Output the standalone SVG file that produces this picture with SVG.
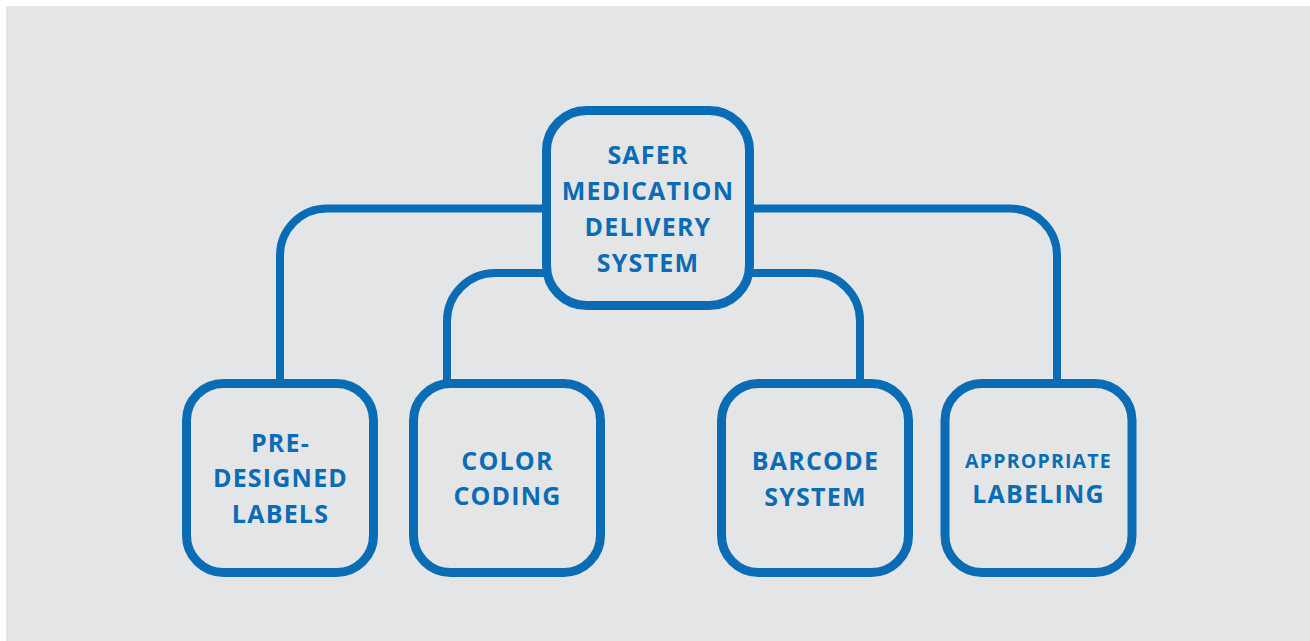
<svg xmlns="http://www.w3.org/2000/svg" width="1310" height="641" viewBox="0 0 1310 641">
  <style>
    .box { fill: none; stroke: #0a6cb4; stroke-width: 9; }
    .link { fill: none; stroke: #0a6cb4; stroke-width: 8; }
    .label { font-family: "Open Sans", "Liberation Sans", sans-serif; font-weight: 700; fill: #0a6cb4; text-anchor: middle; font-size: 25px; letter-spacing: 1.2px; }
    .small { font-size: 19.5px; }
  </style>
  <rect x="0" y="0" width="1310" height="641" fill="#ffffff"/>
  <rect x="6" y="6" width="1304" height="635" fill="#e4e5e7"/>

  <!-- connectors from the central system to each component -->
  <g id="connectors">
    <path class="link" d="M546.5,208.5 H327 A47,47 0 0 0 280,255.5 V383"/>
    <path class="link" d="M546.5,273 H495 A48,48 0 0 0 447,321 V380"/>
    <path class="link" d="M749.5,273 H812 A48,48 0 0 1 860,321 V380"/>
    <path class="link" d="M749.5,208.5 H1010 A47,47 0 0 1 1057,255.5 V383"/>
  </g>

  <g id="node-safer">
    <rect class="box" x="546.5" y="110.5" width="203" height="195" rx="40" ry="40"/>
    <text class="label" x="648" y="164">SAFER</text>
    <text class="label" x="648" y="200">MEDICATION</text>
    <text class="label" x="648" y="236">DELIVERY</text>
    <text class="label" x="648" y="272">SYSTEM</text>
  </g>

  <g id="node-predesigned">
    <rect class="box" x="186.5" y="383.5" width="187" height="189" rx="37" ry="37"/>
    <text class="label" x="280.5" y="452">PRE-</text>
    <text class="label" x="280.5" y="487">DESIGNED</text>
    <text class="label" x="280.5" y="523">LABELS</text>
  </g>

  <g id="node-color">
    <rect class="box" x="413.5" y="383.5" width="187" height="189" rx="37" ry="37"/>
    <text class="label" x="507.5" y="470">COLOR</text>
    <text class="label" x="507.5" y="505">CODING</text>
  </g>

  <g id="node-barcode">
    <rect class="box" x="721.5" y="383.5" width="187" height="189" rx="37" ry="37"/>
    <text class="label" x="815.5" y="470">BARCODE</text>
    <text class="label" x="815.5" y="506">SYSTEM</text>
  </g>

  <g id="node-labeling">
    <rect class="box" x="945" y="383.5" width="187" height="189" rx="37" ry="37"/>
    <text class="label small" x="1038.5" y="468">APPROPRIATE</text>
    <text class="label" x="1038.5" y="503">LABELING</text>
  </g>
</svg>
